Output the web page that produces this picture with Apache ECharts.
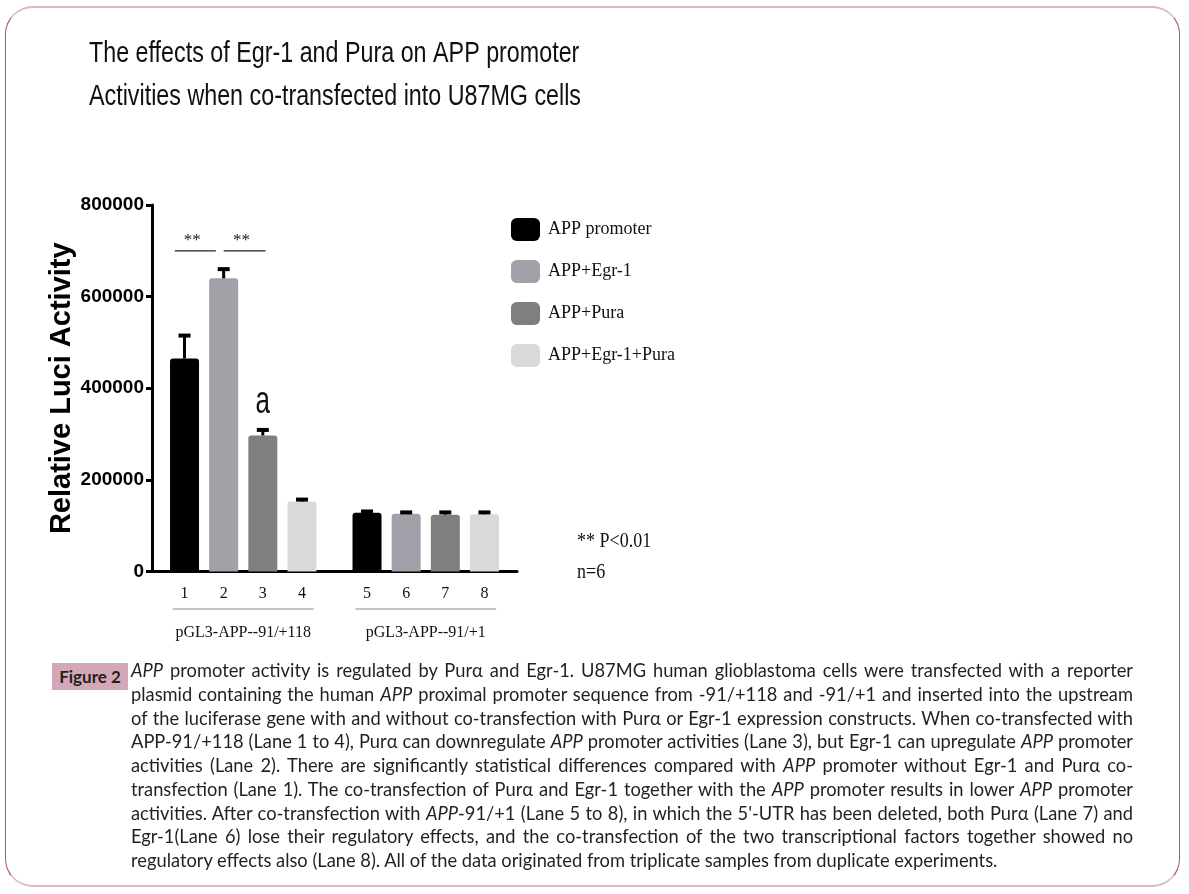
<!DOCTYPE html>
<html><head><meta charset="utf-8">
<script src="https://cdn.jsdelivr.net/npm/echarts@6/dist/echarts.min.js"></script>
<style>
html,body{margin:0;padding:0;background:#fff;}
#wrap{position:relative;width:1189px;height:894px;overflow:hidden;}
#chart{position:absolute;left:0;top:0;width:1189px;height:894px;}
#frame{position:absolute;left:5px;top:6px;width:1173px;height:877px;border-radius:28px;border-top:2px solid #dcb6c4;border-bottom:2px solid #dcb6c4;border-left:1px solid #a45a82;border-right:1px solid #a45a82;pointer-events:none;}
#figlabel{position:absolute;left:52px;top:663px;width:76px;height:27px;background:#d4a6ba;font:bold 17px Lato, sans-serif;line-height:27px;text-align:center;color:#231f20;}
#caption{position:absolute;left:131px;top:659px;width:1002px;font:18.3px Lato, sans-serif;line-height:23.75px;color:#231f20;}
#caption div{text-align:justify;text-align-last:justify;}
#caption div.last{text-align-last:left;}
</style></head>
<body>
<div id="wrap">
<div id="chart"></div>
<div id="frame"></div>
<div id="figlabel">Figure 2</div>
<div id="caption">
<div><i>APP</i> promoter activity is regulated by Purα and Egr-1. U87MG human glioblastoma cells were transfected with a reporter</div>
<div>plasmid containing the human <i>APP</i> proximal promoter sequence from -91/+118 and -91/+1 and inserted into the upstream</div>
<div>of the luciferase gene with and without co-transfection with Purα or Egr-1 expression constructs. When co-transfected with</div>
<div>APP-91/+118 (Lane 1 to 4), Purα can downregulate <i>APP</i> promoter activities (Lane 3), but Egr-1 can upregulate <i>APP</i> promoter</div>
<div>activities (Lane 2). There are significantly statistical differences compared with <i>APP</i> promoter without Egr-1 and Purα co-</div>
<div>transfection (Lane 1). The co-transfection of Purα and Egr-1 together with the <i>APP</i> promoter results in lower <i>APP</i> promoter</div>
<div>activities. After co-transfection with <i>APP</i>-91/+1 (Lane 5 to 8), in which the 5'-UTR has been deleted, both Purα (Lane 7) and</div>
<div>Egr-1(Lane 6) lose their regulatory effects, and the co-transfection of the two transcriptional factors together showed no</div>
<div class="last">regulatory effects also (Lane 8). All of the data originated from triplicate samples from duplicate experiments.</div>
</div>
</div>
<script>
// ---- data ----
const groups = ['pGL3-APP--91/+118', 'pGL3-APP--91/+1'];
const seriesNames = ['APP promoter', 'APP+Egr-1', 'APP+Pura', 'APP+Egr-1+Pura'];
const laneLabels = ['1', '2', '3', '4', '5', '6', '7', '8'];
const valAPP   = [465000, 128000];
const valEgr1  = [640000, 126000];
const valPura  = [297000, 124000];
const valBoth  = [153000, 125000];
const errAPP   = [50000, 3000];
const errEgr1  = [20000, 3000];
const errPura  = [12000, 5000];
const errBoth  = [4000, 4000];
const yMin = 0, yMax = 800000, yStep = 200000;
// significance brackets: [group, fromBarSlot, toBarSlot, value, text]
const sigBrackets = [[0, -0.25, 0.8, 700000, '**'], [0, 1.0, 2.07, 700000, '**']];
// letter marks: [group, barSlot, value, text]
const letterMarks = [[0, 2, 370000, 'a']];
const noteLines = ['** P<0.01', 'n=6'];
const titleText = 'The effects of Egr-1 and Pura on APP promoter\nActivities when co-transfected into U87MG cells';
const yName = 'Relative Luci Activity';

const values = [valAPP, valEgr1, valPura, valBoth];
const errors = [errAPP, errEgr1, errPura, errBoth];
const colors = ['#000000', '#a1a1a9', '#7f7f7f', '#d9d9d9'];

const BAR_W = 29, BAR_GAP = 0.35;
const STEP = BAR_W * (1 + BAR_GAP);
const SERIF = "'Liberation Serif', 'Times New Roman', serif";
const SANS = "'Liberation Sans', Arial, sans-serif";

function slotX(api, group, slot) {
  const c = api.coord([group, 0]);
  return c[0] + (slot - 1.5) * STEP;
}

const series = [];
values.forEach((vals, si) => {
  series.push({
    name: seriesNames[si], type: 'bar', data: vals,
    barWidth: BAR_W, barGap: (BAR_GAP * 100) + '%',
    itemStyle: { color: colors[si], borderRadius: [3, 3, 0, 0] },
    label: {
      show: true, position: 'bottom', distance: 14,
      fontFamily: SERIF, fontSize: 16, color: '#111',
      formatter: p => laneLabels[p.dataIndex * 4 + si]
    },
    z: 2
  });
});
values.forEach((vals, si) => {
  series.push({
    name: 'err ' + seriesNames[si], type: 'custom', z: 3,
    data: vals.map((v, i) => [i, v, errors[si][i]]),
    renderItem: (params, api) => {
      const g = api.value(0), m = api.value(1), e = api.value(2);
      const x = slotX(api, g, si);
      const y0 = api.coord([g, m])[1];
      const y1 = api.coord([g, m + e])[1];
      return { type: 'group', children: [
        { type: 'line', shape: { x1: x, y1: y0, x2: x, y2: y1 }, style: { stroke: '#000', lineWidth: 3 } },
        { type: 'line', shape: { x1: x - 6, y1: y1, x2: x + 6, y2: y1 }, style: { stroke: '#000', lineWidth: 4 } }
      ]};
    }
  });
});
series.push({
  name: 'sig', type: 'custom', z: 4,
  data: sigBrackets,
  renderItem: (params, api) => {
    const g = api.value(0), a = api.value(1), b = api.value(2), v = api.value(3);
    const d = sigBrackets[params.dataIndex];
    const x1 = slotX(api, g, a), x2 = slotX(api, g, b);
    const y = api.coord([g, v])[1];
    return { type: 'group', children: [
      { type: 'line', shape: { x1: x1, y1: y, x2: x2, y2: y }, style: { stroke: '#222', lineWidth: 1.3 } },
      { type: 'text', x: (x1 + x2) / 2 - 3, y: y - 2, style: { text: d[4], fontFamily: SERIF, fontSize: 17, fill: '#222', align: 'center', verticalAlign: 'bottom' } }
    ]};
  }
});
series.push({
  name: 'letters', type: 'custom', z: 4,
  data: letterMarks,
  renderItem: (params, api) => {
    const g = api.value(0), s = api.value(1), v = api.value(2);
    const d = letterMarks[params.dataIndex];
    const x = slotX(api, g, s);
    const y = api.coord([g, v])[1];
    return { type: 'text', x: x, y: y, scaleY: 1.5,
      style: { text: d[3], fontFamily: SANS, fontSize: 26, fill: '#111', align: 'center', verticalAlign: 'middle' } };
  }
});

const graphics = [{
  type: 'text', x: 89, y: 32.5, scaleY: 1.27,
  style: { text: titleText, fontFamily: SANS, fontSize: 23.3, lineHeight: 33.9, fill: '#111', verticalAlign: 'top' }
}].concat(noteLines.map((t, i) => ({
  type: 'text', x: 577, y: 541 + i * 31, scaleY: 1.2,
  style: { text: t, fontFamily: SERIF, fontSize: 18, fill: '#111', verticalAlign: 'middle' }
})));

const chart = echarts.init(document.getElementById('chart'), null, { renderer: 'canvas' });
chart.setOption({
  animation: false,
  backgroundColor: '#ffffff',
  legend: {
    data: seriesNames, orient: 'vertical', left: 511, top: 218,
    itemWidth: 29, itemHeight: 23, itemGap: 19, padding: 0, icon: 'roundRect',
    textStyle: { fontFamily: SERIF, fontSize: 18, color: '#111', padding: [0, 0, 0, 3] }
  },
  graphic: graphics,
  grid: { left: 152, right: 672, top: 205, bottom: 322.5, containLabel: false },
  xAxis: {
    type: 'category', data: groups,
    axisLine: { lineStyle: { color: '#000', width: 3 } },
    axisTick: { alignWithLabel: true, length: 9, lineStyle: { color: '#000', width: 2.5 } },
    axisLabel: {
      margin: 37, interval: 0,
      formatter: v => '{ln| }\n{t|' + v + '}',
      rich: {
        ln: { width: 141, height: 1, lineHeight: 1, backgroundColor: '#8a8a8a' },
        t: { fontFamily: SERIF, fontSize: 16, color: '#111', lineHeight: 46 }
      }
    }
  },
  yAxis: {
    type: 'value', min: yMin, max: yMax, interval: yStep,
    name: yName, nameLocation: 'middle', nameGap: 57, nameRotate: 90,
    nameTextStyle: { fontFamily: SANS, fontWeight: 'bold', fontSize: 29, color: '#000' },
    axisLine: { show: true, lineStyle: { color: '#000', width: 3 } },
    axisTick: { show: true, length: 6, lineStyle: { color: '#000', width: 3 } },
    splitLine: { show: false },
    axisLabel: { fontFamily: SANS, fontWeight: 'bold', fontSize: 19, color: '#000', margin: 8, formatter: v => String(v) }
  },
  series: series
});
</script>
</body></html>
